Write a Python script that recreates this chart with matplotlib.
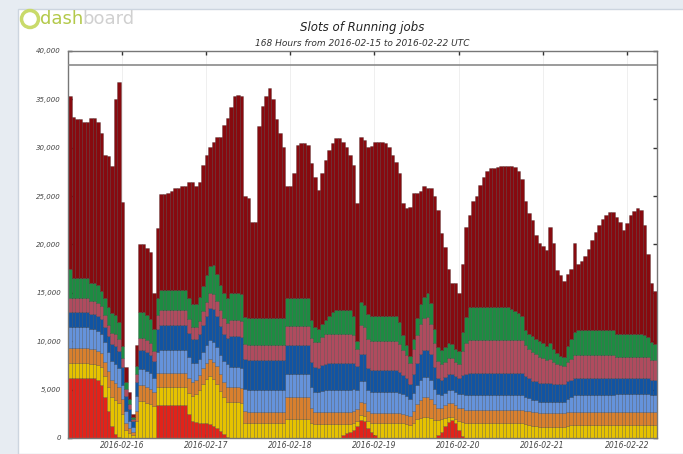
import numpy as np
import matplotlib.pyplot as plt
from matplotlib.patches import Rectangle, Ellipse

# running job slots per hour (thousands), stacked bottom -> top
red = [6.2, 6.2, 6.2, 6.2, 6.2, 6.2, 6.2, 6.2, 6.0, 5.5, 4.2, 2.8,
       1.2, 0.4, 0.1, 0, 0, 0, 0, 0, 0, 0, 0, 0,
       0, 3.4, 3.4, 3.4, 3.4, 3.4, 3.4, 3.4, 3.4, 3.4, 2.5, 1.8,
       1.7, 1.6, 1.6, 1.5, 1.4, 1.2, 1.0, 0.7, 0.4, 0.1, 0, 0,
       0, 0, 0, 0, 0, 0, 0, 0, 0, 0, 0, 0,
       0, 0, 0, 0, 0, 0, 0, 0, 0, 0, 0, 0,
       0, 0, 0, 0, 0, 0, 0.3, 0.5, 0.6, 0.8, 1.2, 1.9,
       1.8, 1.0, 0.6, 0.3, 0, 0, 0, 0, 0, 0, 0, 0,
       0, 0, 0, 0, 0, 0, 0, 0, 0, 0.3, 0.6, 1.2,
       1.7, 1.9, 1.5, 0.8, 0.2, 0, 0, 0, 0, 0, 0, 0,
       0, 0, 0, 0, 0, 0, 0, 0, 0, 0, 0, 0,
       0, 0, 0, 0, 0, 0, 0, 0, 0, 0, 0, 0,
       0, 0, 0, 0, 0, 0, 0, 0, 0, 0, 0, 0,
       0, 0, 0, 0, 0, 0, 0, 0, 0, 0, 0, 0]
yellow = [1.6, 1.6, 1.6, 1.6, 1.6, 1.6, 1.5, 1.5, 1.5, 1.8, 2.2, 2.5,
          3.0, 3.5, 3.5, 2.5, 0.8, 0.5, 0.3, 1.8, 3.8, 3.8, 3.6, 3.5,
          3.3, 1.9, 1.9, 1.9, 1.9, 1.9, 1.9, 1.9, 1.9, 1.9, 2.2, 2.5,
          2.8, 3.4, 4.0, 4.6, 5.0, 4.9, 4.6, 4.2, 3.8, 3.6, 3.7, 3.7,
          3.7, 3.6, 1.6, 1.5, 1.5, 1.5, 1.5, 1.5, 1.5, 1.5, 1.5, 1.5,
          1.5, 1.5, 2.0, 2.0, 2.0, 2.0, 2.0, 2.0, 2.0, 1.6, 1.4, 1.4,
          1.4, 1.4, 1.4, 1.4, 1.4, 1.4, 1.1, 0.9, 0.8, 0.7, 0.6, 0.5,
          0.5, 0.8, 1.0, 1.3, 1.6, 1.6, 1.6, 1.6, 1.6, 1.6, 1.6, 1.5,
          1.4, 1.3, 1.6, 2.0, 2.1, 2.2, 2.2, 2.1, 1.9, 1.6, 1.4, 0.9,
          0.5, 0.3, 0.5, 1.0, 1.5, 1.5, 1.5, 1.5, 1.5, 1.5, 1.5, 1.5,
          1.5, 1.5, 1.5, 1.5, 1.5, 1.5, 1.5, 1.5, 1.5, 1.5, 1.4, 1.3,
          1.2, 1.2, 1.1, 1.1, 1.1, 1.1, 1.1, 1.1, 1.1, 1.1, 1.2, 1.3,
          1.3, 1.3, 1.3, 1.3, 1.3, 1.3, 1.3, 1.3, 1.3, 1.3, 1.3, 1.3,
          1.3, 1.3, 1.3, 1.3, 1.3, 1.3, 1.3, 1.3, 1.3, 1.3, 1.3, 1.3]
orange = [1.5, 1.5, 1.5, 1.5, 1.5, 1.5, 1.5, 1.5, 1.5, 1.5, 1.5, 1.6,
          1.8, 1.8, 1.7, 1.5, 0.8, 0.5, 0.3, 1.0, 1.7, 1.7, 1.7, 1.6,
          1.5, 1.4, 1.4, 1.4, 1.4, 1.4, 1.4, 1.4, 1.4, 1.4, 1.5, 1.5,
          1.5, 1.5, 1.6, 1.7, 1.8, 1.8, 1.8, 1.7, 1.6, 1.6, 1.6, 1.6,
          1.6, 1.6, 1.2, 1.2, 1.2, 1.2, 1.2, 1.2, 1.2, 1.2, 1.2, 1.2,
          1.2, 1.2, 2.2, 2.2, 2.2, 2.2, 2.2, 2.2, 2.2, 1.5, 1.3, 1.3,
          1.3, 1.3, 1.3, 1.3, 1.3, 1.3, 1.3, 1.3, 1.3, 1.3, 1.2, 1.3,
          1.3, 1.0, 1.0, 1.0, 1.0, 1.0, 1.0, 1.0, 1.0, 1.0, 1.0, 1.0,
          1.0, 1.0, 1.2, 1.5, 1.8, 2.0, 2.0, 1.9, 1.6, 1.2, 1.1, 1.3,
          1.4, 1.4, 1.4, 1.3, 1.4, 1.4, 1.4, 1.4, 1.4, 1.4, 1.4, 1.4,
          1.4, 1.4, 1.4, 1.4, 1.4, 1.4, 1.4, 1.4, 1.4, 1.4, 1.4, 1.5,
          1.5, 1.5, 1.5, 1.5, 1.5, 1.5, 1.5, 1.5, 1.5, 1.5, 1.5, 1.4,
          1.4, 1.4, 1.4, 1.4, 1.4, 1.4, 1.4, 1.4, 1.4, 1.4, 1.4, 1.4,
          1.4, 1.4, 1.4, 1.4, 1.4, 1.4, 1.4, 1.4, 1.4, 1.4, 1.4, 1.4]
light_blue = [2.2, 2.2, 2.2, 2.2, 2.2, 2.2, 2.1, 2.1, 2.1, 2.0, 2.0, 2.0,
              2.0, 2.0, 1.9, 1.5, 1.2, 0.8, 0.5, 1.5, 1.6, 1.6, 1.6, 1.6,
              1.4, 2.2, 2.4, 2.4, 2.4, 2.4, 2.4, 2.4, 2.4, 2.4, 2.2, 2.0,
              1.8, 1.7, 1.7, 1.8, 1.9, 2.0, 2.0, 2.0, 2.2, 2.3, 2.0, 2.0,
              2.0, 2.0, 2.3, 2.3, 2.3, 2.3, 2.3, 2.3, 2.3, 2.3, 2.3, 2.3,
              2.3, 2.3, 2.4, 2.4, 2.4, 2.4, 2.4, 2.4, 2.4, 2.2, 2.1, 2.1,
              2.2, 2.3, 2.3, 2.3, 2.3, 2.3, 2.3, 2.3, 2.3, 2.3, 2.0, 2.2,
              2.3, 2.2, 2.2, 2.2, 2.2, 2.2, 2.2, 2.2, 2.2, 2.2, 2.1, 2.0,
              1.9, 1.7, 1.9, 2.0, 2.1, 2.1, 2.1, 2.0, 1.6, 1.4, 1.3, 1.3,
              1.4, 1.4, 1.4, 1.4, 1.4, 1.5, 1.5, 1.5, 1.5, 1.5, 1.5, 1.5,
              1.5, 1.5, 1.5, 1.5, 1.5, 1.5, 1.5, 1.5, 1.5, 1.5, 1.4, 1.3,
              1.2, 1.2, 1.1, 1.1, 1.1, 1.1, 1.1, 1.1, 1.1, 1.1, 1.3, 1.5,
              1.7, 1.7, 1.7, 1.7, 1.7, 1.7, 1.7, 1.7, 1.7, 1.7, 1.7, 1.7,
              1.8, 1.8, 1.8, 1.8, 1.8, 1.8, 1.8, 1.8, 1.8, 1.8, 1.7, 1.7]
dark_blue = [1.5, 1.5, 1.5, 1.5, 1.5, 1.5, 1.5, 1.5, 1.5, 1.5, 1.6, 1.6,
             1.7, 1.8, 1.8, 1.8, 1.5, 1.2, 0.7, 1.5, 2.0, 2.0, 2.0, 1.9,
             1.8, 2.4, 2.6, 2.6, 2.6, 2.6, 2.6, 2.6, 2.6, 2.6, 2.5, 2.4,
             2.4, 2.6, 2.8, 3.0, 3.3, 3.4, 3.2, 3.0, 2.8, 2.7, 3.2, 3.2,
             3.2, 3.2, 3.1, 3.1, 3.1, 3.1, 3.1, 3.1, 3.1, 3.1, 3.1, 3.1,
             3.1, 3.1, 3.0, 3.0, 3.0, 3.0, 3.0, 3.0, 3.0, 2.6, 2.5, 2.4,
             2.6, 2.7, 2.8, 2.8, 2.8, 2.8, 2.8, 2.8, 2.8, 2.7, 2.4, 2.8,
             2.8, 2.2, 2.2, 2.2, 2.2, 2.2, 2.2, 2.2, 2.2, 2.2, 2.1, 2.0,
             1.9, 1.6, 1.9, 2.3, 2.7, 2.8, 2.8, 2.7, 2.2, 1.7, 1.6, 1.6,
             1.6, 1.6, 1.6, 1.7, 2.0, 2.2, 2.3, 2.3, 2.3, 2.3, 2.3, 2.3,
             2.3, 2.3, 2.3, 2.3, 2.3, 2.3, 2.3, 2.3, 2.3, 2.3, 2.2, 2.1,
             2.0, 2.0, 2.0, 2.0, 2.0, 2.0, 1.9, 1.9, 1.9, 1.9, 1.9, 1.8,
             1.8, 1.8, 1.8, 1.8, 1.8, 1.8, 1.8, 1.8, 1.8, 1.8, 1.8, 1.8,
             1.7, 1.7, 1.7, 1.7, 1.7, 1.7, 1.7, 1.7, 1.7, 1.7, 1.6, 1.6]
rose = [1.5, 1.5, 1.5, 1.5, 1.5, 1.5, 1.4, 1.4, 1.4, 1.3, 1.2, 1.2,
        1.2, 1.2, 1.2, 1.0, 0.8, 0.5, 0.2, 0.8, 1.2, 1.2, 1.2, 1.2,
        1.0, 1.4, 1.5, 1.5, 1.5, 1.5, 1.5, 1.5, 1.5, 1.5, 1.4, 1.3,
        1.3, 1.3, 1.4, 1.5, 1.6, 1.6, 1.6, 1.6, 1.6, 1.6, 1.7, 1.7,
        1.7, 1.7, 1.5, 1.5, 1.5, 1.5, 1.5, 1.5, 1.5, 1.5, 1.5, 1.5,
        1.5, 1.5, 2.0, 2.0, 2.0, 2.0, 2.0, 2.0, 2.0, 2.4, 2.6, 2.7,
        2.9, 3.0, 3.0, 3.0, 3.0, 3.0, 3.0, 3.0, 3.0, 2.8, 1.8, 3.0,
        2.8, 3.0, 3.0, 3.0, 3.0, 3.0, 3.0, 3.0, 3.0, 3.0, 2.9, 2.6,
        2.4, 2.2, 2.6, 2.8, 3.1, 3.3, 3.4, 3.1, 2.5, 1.8, 1.6, 1.6,
        1.7, 1.7, 1.5, 1.5, 2.5, 3.2, 3.4, 3.4, 3.4, 3.4, 3.4, 3.4,
        3.4, 3.4, 3.4, 3.4, 3.4, 3.4, 3.4, 3.4, 3.4, 3.4, 3.2, 3.0,
        3.0, 2.8, 2.7, 2.6, 2.4, 2.5, 2.3, 2.1, 1.9, 1.8, 2.0, 2.2,
        2.4, 2.4, 2.4, 2.4, 2.4, 2.4, 2.4, 2.4, 2.4, 2.4, 2.4, 2.4,
        2.2, 2.2, 2.2, 2.2, 2.2, 2.2, 2.2, 2.2, 2.2, 2.2, 2.1, 2.1]
green = [3.0, 2.0, 2.0, 2.0, 2.0, 2.0, 1.8, 1.8, 1.8, 1.6, 1.8, 1.8,
         2.0, 2.0, 1.8, 1.2, 0.7, 0.5, 0.2, 0.8, 2.7, 2.7, 2.6, 2.5,
         2.3, 1.8, 2.1, 2.1, 2.1, 2.1, 2.1, 2.1, 2.1, 2.1, 2.2, 2.3,
         2.4, 2.5, 2.6, 2.7, 2.8, 3.0, 2.8, 2.6, 2.6, 2.6, 2.8, 2.8,
         2.8, 2.8, 2.8, 2.8, 2.8, 2.8, 2.8, 2.8, 2.8, 2.8, 2.8, 2.8,
         2.8, 2.8, 2.9, 2.9, 2.9, 2.9, 2.9, 2.9, 2.9, 1.9, 1.6, 1.4,
         1.4, 1.5, 1.8, 2.2, 2.4, 2.4, 2.4, 2.4, 2.4, 2.0, 0.8, 2.4,
         2.2, 2.6, 2.6, 2.6, 2.6, 2.6, 2.6, 2.6, 2.6, 2.6, 2.3, 1.5,
         1.0, 0.7, 1.0, 1.8, 2.0, 2.2, 2.5, 2.2, 1.5, 1.4, 1.5, 1.5,
         1.5, 1.4, 1.3, 1.3, 2.0, 2.7, 3.4, 3.4, 3.4, 3.4, 3.4, 3.4,
         3.4, 3.4, 3.4, 3.4, 3.4, 3.4, 3.2, 3.0, 2.8, 2.5, 1.6, 1.6,
         1.6, 1.5, 1.6, 1.5, 1.4, 1.6, 1.3, 1.1, 1.0, 1.0, 1.6, 2.0,
         2.4, 2.6, 2.6, 2.6, 2.6, 2.6, 2.6, 2.6, 2.6, 2.6, 2.6, 2.6,
         2.4, 2.4, 2.4, 2.4, 2.4, 2.4, 2.4, 2.4, 2.2, 2.0, 1.8, 1.6]
# height of the whole stack; the dark red series fills the rest
total = [35.3, 33.2, 33.0, 33.0, 32.7, 32.7, 33.1, 33.1, 32.7, 31.5, 29.3, 29.1,
         28.1, 35.0, 36.8, 24.4, 7.3, 4.8, 2.5, 9.6, 20.0, 20.0, 19.6, 19.2,
         15.0, 21.7, 25.2, 25.2, 25.3, 25.5, 25.8, 25.8, 26.0, 26.0, 26.5, 26.5,
         26.0, 26.5, 28.2, 29.3, 30.1, 30.6, 31.1, 31.1, 32.4, 33.1, 34.2, 35.3,
         35.5, 35.3, 25.0, 24.8, 22.3, 22.3, 32.2, 34.3, 35.3, 36.2, 35.0, 33.0,
         31.5, 30.1, 26.0, 26.0, 27.4, 30.3, 30.5, 30.5, 30.3, 28.4, 27.0, 25.6,
         27.4, 28.7, 29.8, 30.5, 31.0, 31.0, 30.6, 30.1, 29.3, 28.2, 24.3, 31.1,
         30.8, 30.1, 30.2, 30.6, 30.6, 30.6, 30.5, 30.1, 29.3, 28.5, 27.4, 24.3,
         23.8, 23.9, 25.3, 25.3, 25.5, 26.0, 25.8, 25.8, 25.0, 23.6, 21.2, 19.7,
         17.5, 16.0, 16.0, 15.0, 18.0, 21.8, 23.0, 24.5, 25.0, 26.2, 27.0, 27.6,
         27.9, 27.9, 28.0, 28.1, 28.1, 28.1, 28.1, 28.0, 27.6, 26.8, 24.5, 23.3,
         22.5, 21.0, 20.2, 19.8, 19.4, 21.8, 20.2, 17.4, 16.8, 16.2, 17.0, 17.5,
         20.2, 18.0, 18.3, 18.8, 19.5, 20.5, 21.3, 22.0, 22.6, 23.0, 23.4, 23.4,
         22.8, 22.3, 21.5, 22.2, 23.0, 23.5, 23.8, 23.6, 22.0, 19.0, 16.0, 15.2]

day_labels = ['2016-02-16', '2016-02-17', '2016-02-18', '2016-02-19',
              '2016-02-20', '2016-02-21', '2016-02-22']
colors = ['#e2231a', '#e6c200', '#d9802e', '#6593db', '#1154a3',
          '#b04b5e', '#1d8c42', '#870a0f']

layers = [np.array(s) * 1000 for s in
          [red, yellow, orange, light_blue, dark_blue, rose, green]]
top = np.array(total) * 1000
layers.append(np.clip(top - np.sum(layers, axis=0), 0, None))
hours = np.arange(len(top))

fig = plt.figure(figsize=(6.83, 4.54), dpi=100, facecolor='#e7ecf2')
fig.patches.append(Rectangle((18 / 683, 0), 1, 445 / 454, transform=fig.transFigure,
                             facecolor='white', edgecolor='#cdd5df', lw=1, zorder=-5))

ax = fig.add_axes([68 / 683, 16 / 454, 589 / 683, 387 / 454])
ax.set_zorder(2)
bottom = np.zeros(len(top))
for vals, c in zip(layers, colors):
    ax.bar(hours, vals, width=1.0, bottom=bottom, align='edge', color=c,
           edgecolor=(0, 0, 0, 0.35), linewidth=0.4, zorder=2)
    bottom += vals

ax.axhline(38550, color='#8a8a8a', lw=1.2, zorder=3)
ax.set_xlim(0, len(top))
ax.set_ylim(0, 40000)
yt = np.arange(0, 40001, 5000)
ax.set_yticks(yt)
ax.set_yticklabels(['{:,}'.format(v) for v in yt], fontsize=5, style='italic', color='#444444')
ax.set_xticks(15.4 + 24 * np.arange(len(day_labels)))
ax.set_xticklabels(day_labels, fontsize=5.5, style='italic', color='#444444')
ax.tick_params(direction='in', top=True, right=True, length=3, width=1, pad=2, color='#333333')
ax.tick_params(axis='y', pad=5)
ax.grid(axis='x', color='#ececec', lw=0.6, zorder=0)
for s in ax.spines.values():
    s.set_color('#777777')
    s.set_linewidth(1)

fig.text(362 / 683, 1 - 27 / 454, 'Slots of Running jobs', ha='center', va='center',
         fontsize=8.5, style='italic', color='#222222')
fig.text(362 / 683, 1 - 43 / 454, '168 Hours from 2016-02-15 to 2016-02-22 UTC', ha='center',
         va='center', fontsize=6.5, style='italic', color='#333333')

# dashboard logo
fig.patches.append(Ellipse((30 / 683, 1 - 19 / 454), 17 / 683, 17 / 454, transform=fig.transFigure,
                           facecolor='none', edgecolor='#c9da6a', lw=2.5))
fig.text(40 / 683, 1 - 19 / 454, 'dash', ha='left', va='center', fontsize=13,
         color='#b3c94a')
fig.text(82 / 683, 1 - 19 / 454, 'board', ha='left', va='center', fontsize=13,
         color='#d0d0d0')

fig.savefig('out.png', dpi=100, facecolor=fig.get_facecolor())
